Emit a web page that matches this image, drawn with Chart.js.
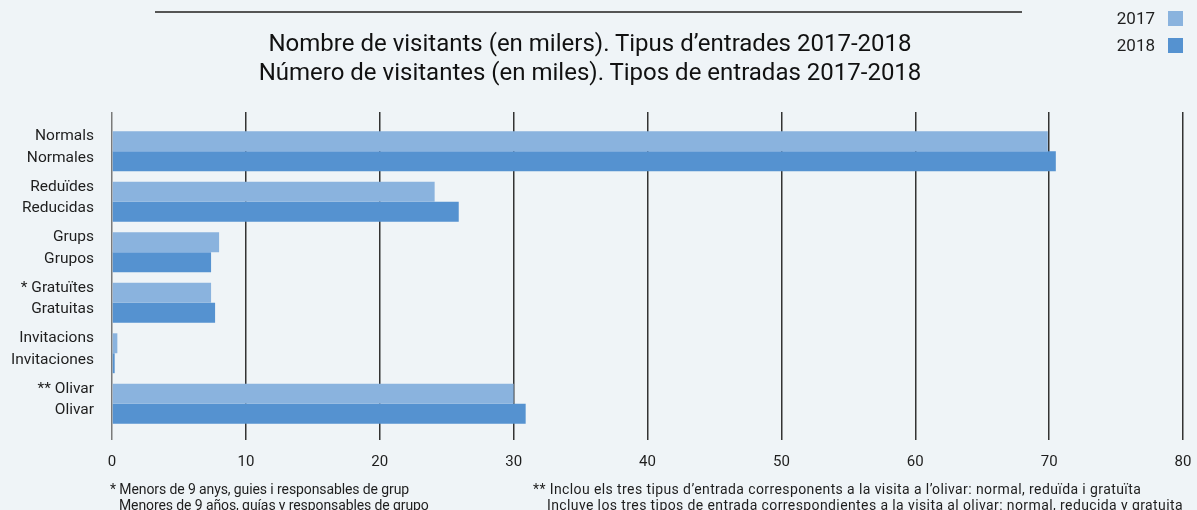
<!DOCTYPE html>
<html>
<head>
<meta charset="utf-8">
<script src="https://cdn.jsdelivr.net/npm/chart.js@4/dist/chart.umd.min.js"></script>
<style>
  html, body { margin: 0; padding: 0; background: #eff4f7; }
  #wrap { position: relative; width: 1197px; height: 510px; font-family: Roboto, "Liberation Sans", sans-serif; color: #1e1e1e; }
  #regla { position: absolute; left: 155px; top: 11px; width: 867px; height: 2px; background: #555; }
  #titol { position: absolute; left: 0; top: 29px; width: 1180px; text-align: center; font-size: 24px; line-height: 29px; color: #111; }
  #llegenda { position: absolute; right: 14px; top: 5px; font-size: 17px; line-height: 27px; text-align: right; }
  #llegenda span.box { display: inline-block; width: 15px; height: 15px; margin-left: 13px; vertical-align: -2px; }
  .nota { position: absolute; top: 481px; font-size: 14px; line-height: 16px; }
  canvas { position: absolute; left: 0; top: 0; }
</style>
</head>
<body>
<div id="wrap">
  <canvas id="grafic" width="1197" height="510"></canvas>
  <div id="regla"></div>
  <div id="titol">
    Nombre de visitants (en milers). Tipus d’entrades 2017-2018<br>
    Número de visitantes (en miles). Tipos de entradas 2017-2018
  </div>
  <div id="llegenda"></div>
  <div class="nota" style="left:110px; letter-spacing:-0.1px">
    <div>* Menors de 9 anys, guies i responsables de grup</div>
    <div style="padding-left:9px">Menores de 9 años, guías y responsables de grupo</div>
  </div>
  <div class="nota" style="left:533px; letter-spacing:0.4px">
    <div>** Inclou els tres tipus d’entrada corresponents a la visita a l’olivar: normal, reduïda i gratuïta</div>
    <div style="padding-left:14px">Incluye los tres tipos de entrada correspondientes a la visita al olivar: normal, reducida y gratuita</div>
  </div>
</div>
<script>
const categories = [
    ["Normals", "Normales"],
    ["Reduïdes", "Reducidas"],
    ["Grups", "Grupos"],
    ["* Gratuïtes", "Gratuitas"],
    ["Invitacions", "Invitaciones"],
    ["** Olivar", "Olivar"]
];
const valors2017 = [69.9, 24.1, 8.0, 7.4, 0.4, 30.0];
const valors2018 = [70.5, 25.9, 7.4, 7.7, 0.2, 30.9];
const xTicks = [0, 10, 20, 30, 40, 50, 60, 70, 80];

const colors = { "2017": "#8ab3de", "2018": "#5592d0" };

// llegenda html (text a l'esquerra, quadre a la dreta)
let llegenda = document.getElementById('llegenda');
for (let any in colors) {
    llegenda.innerHTML += `<div>${any}<span class="box" style="background:${colors[any]}"></span></div>`;
}

function gridColor(ctx) {
    return ctx.tick && ctx.tick.value === 0 ? "#7a7a7a" : "#333333";
}

const ctx = document.getElementById('grafic').getContext('2d');
new Chart(ctx, {
    type: "bar",
    data: {
        labels: categories,
        datasets: [
            { label: "2017", data: valors2017, backgroundColor: colors["2017"] },
            { label: "2018", data: valors2018, backgroundColor: colors["2018"] }
        ]
    },
    options: {
        indexAxis: "y",
        responsive: false,
        animation: false,
        layout: { padding: { top: 112, right: 14, bottom: 26, left: 0 } },
        categoryPercentage: 0.79,
        barPercentage: 1.0,
        plugins: { legend: { display: false }, tooltip: { enabled: false } },
        scales: {
            x: {
                position: "bottom",
                min: 0, max: 80,
                afterBuildTicks: (scale) => { scale.ticks = xTicks.map(v => ({ value: v })); },
                // el padding dels ticks no ha d'encongir l'area per la dreta
                afterFit: (scale) => { scale.paddingRight = 0; scale.paddingLeft = 0; },
                border: { display: false },
                grid: { color: gridColor, lineWidth: 1.5, tickLength: 11, tickColor: gridColor },
                ticks: { color: "#1e1e1e", padding: 13, font: { family: "Roboto", size: 15 } }
            },
            xTop: {
                axis: "x",
                position: "top",
                min: 0, max: 80,
                afterBuildTicks: (scale) => { scale.ticks = xTicks.map(v => ({ value: v })); },
                border: { display: false },
                grid: { drawOnChartArea: false, lineWidth: 1.5, tickLength: 14, tickColor: gridColor },
                ticks: { display: false }
            },
            y: {
                border: { display: false },
                grid: { display: false },
                afterFit: (scale) => { scale.width = 112; },
                ticks: { color: "#1e1e1e", padding: 10, labelOffset: -4, font: { family: "Roboto", size: 15.5, lineHeight: 1.4 } }
            }
        }
    }
});
</script>
</body>
</html>
